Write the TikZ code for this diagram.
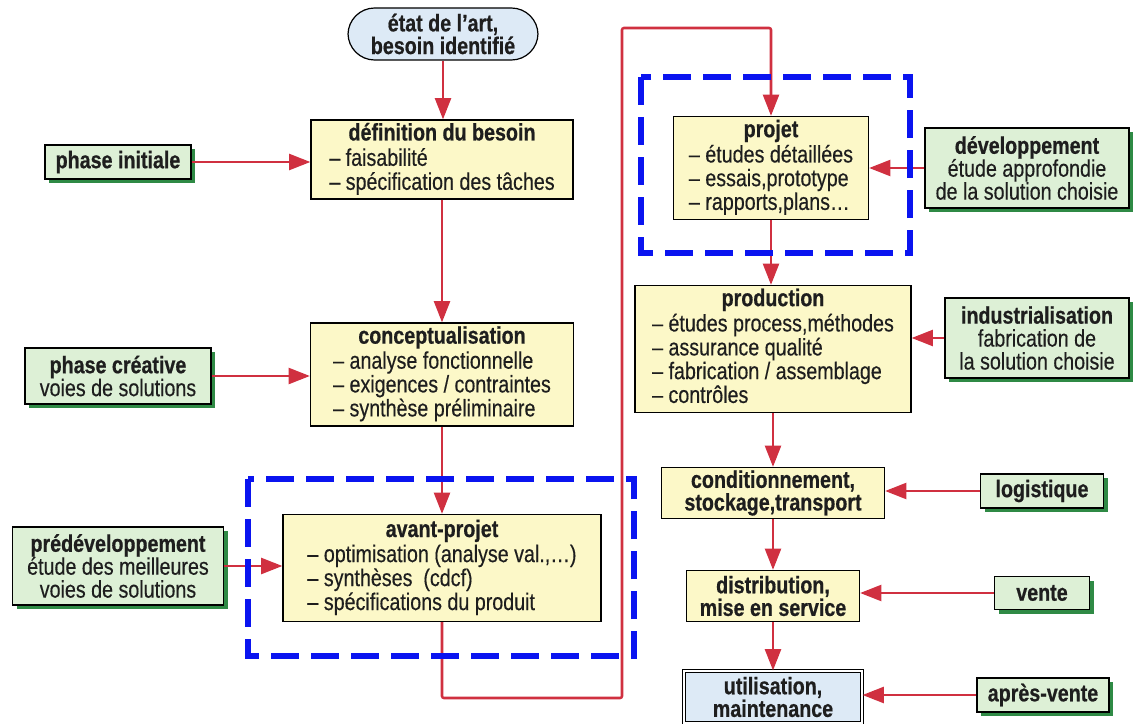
\documentclass[tikz,border=0pt]{standalone}
\usepackage{fontspec}
\setmainfont{Liberation Sans}[FakeStretch=0.82,
  UprightFeatures={FakeBold=0.35},BoldFeatures={FakeBold=0.6}]
\usetikzlibrary{arrows.meta,shadows}
\definecolor{yel}{HTML}{FCF8C8}
\definecolor{grn}{HTML}{DDF0D6}
\definecolor{grnsh}{HTML}{2F8A45}
\definecolor{blu}{HTML}{DDEAF6}
\definecolor{redarr}{HTML}{D03040}
\definecolor{dashblue}{HTML}{0A14F0}
\definecolor{ink}{HTML}{1E1E1E}
\newcommand\blist[2]{\begin{tabular}{@{}l@{}}\multicolumn{1}{@{}c@{}}{\bfseries #1}\\[1pt]#2\end{tabular}}
\begin{document}
\begin{tikzpicture}[x=0.75pt,y=-0.75pt,
  font=\fontsize{18}{15.8}\selectfont,text=ink,
  sz/.style 2 args={minimum width=#1*0.75pt,minimum height=#2*0.75pt},
  ybox/.style={draw=black,line width=0.9pt,fill=yel,inner sep=0pt},
  ybold/.style={ybox,align=center,font=\fontsize{18}{17}\selectfont\bfseries},
  gbox/.style={draw=black,line width=0.9pt,fill=grn,inner sep=0pt,align=center,
    font=\fontsize{18}{17.2}\selectfont,
    drop shadow={shadow xshift=3pt,shadow yshift=-3pt,fill=grnsh,opacity=1}},
  arr/.style={draw=redarr,line width=1.9pt,-{Triangle[length=16pt,width=12pt]}},
  blbox/.style={draw=dashblue,line width=4.5pt,dash pattern=on 21pt off 9pt}]
\useasboundingbox (0,0) rectangle (1136,724);

% left column
\node[draw=black,line width=0.9pt,fill=blu,rounded corners=20pt,sz={190}{52},align=center,
  font=\fontsize{18}{17}\selectfont\bfseries] (start) at (443,34) {état de l’art,\\besoin identifié};
\node[ybox,sz={262}{79}] (def) at (442,159.5) {\blist{définition du besoin}{– faisabilité\\– spécification des tâches}};
\node[ybox,sz={263}{103}] (concept) at (442,374.5) {\blist{conceptualisation}{– analyse fonctionnelle\\– exigences / contraintes\\– synthèse préliminaire}};
\node[ybox,sz={318}{107}] (avant) at (442,568) {\blist{avant-projet}{– optimisation (analyse val.,…)\\– synthèses\ \ (cdcf)\\– spécifications du produit}};

\node[gbox,sz={146}{34}] (init) at (118,162) {\bfseries phase initiale};
\node[gbox,sz={186}{56}] (creative) at (118,376) {{\bfseries phase créative}\\voies de solutions};
\node[gbox,sz={211}{78}] (pred) at (118,566) {{\bfseries prédéveloppement}\\étude des meilleures\\voies de solutions};

% right column
\node[ybox,sz={195}{103}] (projet) at (771,168) {\blist{projet}{– études détaillées\\– essais,prototype\\– rapports,plans…}};
\node[ybox,sz={276}{127}] (prod) at (773,349) {\blist{production}{– études process,méthodes\\– assurance qualité\\– fabrication / assemblage\\– contrôles}};
\node[ybold,sz={223}{51}] (cond) at (773,493) {conditionnement,\\stockage,transport};
\node[ybold,sz={173}{51}] (distri) at (773,596) {distribution,\\mise en service};
\node[draw=black,line width=0.8pt,double=white,double distance=1.6pt,fill=blu,sz={178}{52},align=center,
  font=\fontsize{18}{17}\selectfont\bfseries] (util) at (773,697) {utilisation,\\maintenance};

\node[gbox,sz={204}{80}] (dev) at (1027,168) {{\bfseries développement}\\étude approfondie\\de la solution choisie};
\node[gbox,sz={184}{80}] (indus) at (1037,338) {{\bfseries industrialisation}\\fabrication de\\la solution choisie};
\node[gbox,sz={123}{34}] (logi) at (1042,491) {\bfseries logistique};
\node[gbox,sz={95}{33}] (vente) at (1042,593) {\bfseries vente};
\node[gbox,sz={132}{34}] (apres) at (1043,695) {\bfseries après-vente};

% connectors
\draw[arr] (start.south) -- (start.south |- def.north);
\draw[arr] (def.south) -- (def.south |- concept.north);
\draw[arr] (concept.south) -- (concept.south |- avant.north);
\draw[arr] (init.east) -- (init.east -| def.west);
\draw[arr] (creative.east) -- (creative.east -| concept.west);
\draw[arr] (pred.east) -- (pred.east -| avant.west);

\coordinate (c1) at (622,698);
\coordinate (c2) at (622,28);
\draw[arr,rounded corners=1.5pt] (avant.south) |- (c1) -- (c2) -| (projet.north);

\draw[arr] (projet.south) -- (projet.south |- prod.north);
\draw[arr] (prod.south) -- (prod.south |- cond.north);
\draw[arr] (cond.south) -- (cond.south |- distri.north);
\draw[arr] (distri.south) -- (distri.south |- util.north);

\draw[arr] (dev.west) -- (dev.west -| projet.east);
\draw[arr] (indus.west) -- (indus.west -| prod.east);
\draw[arr] (logi.west) -- (logi.west -| cond.east);
\draw[arr] (vente.west) -- (vente.west -| distri.east);
\draw[arr] (apres.west) -- (apres.west -| util.east);

% dashed groups
\draw[blbox] (248,479) rectangle (634,656);
\draw[blbox] (641,77) rectangle (910,253);
\end{tikzpicture}
\end{document}
